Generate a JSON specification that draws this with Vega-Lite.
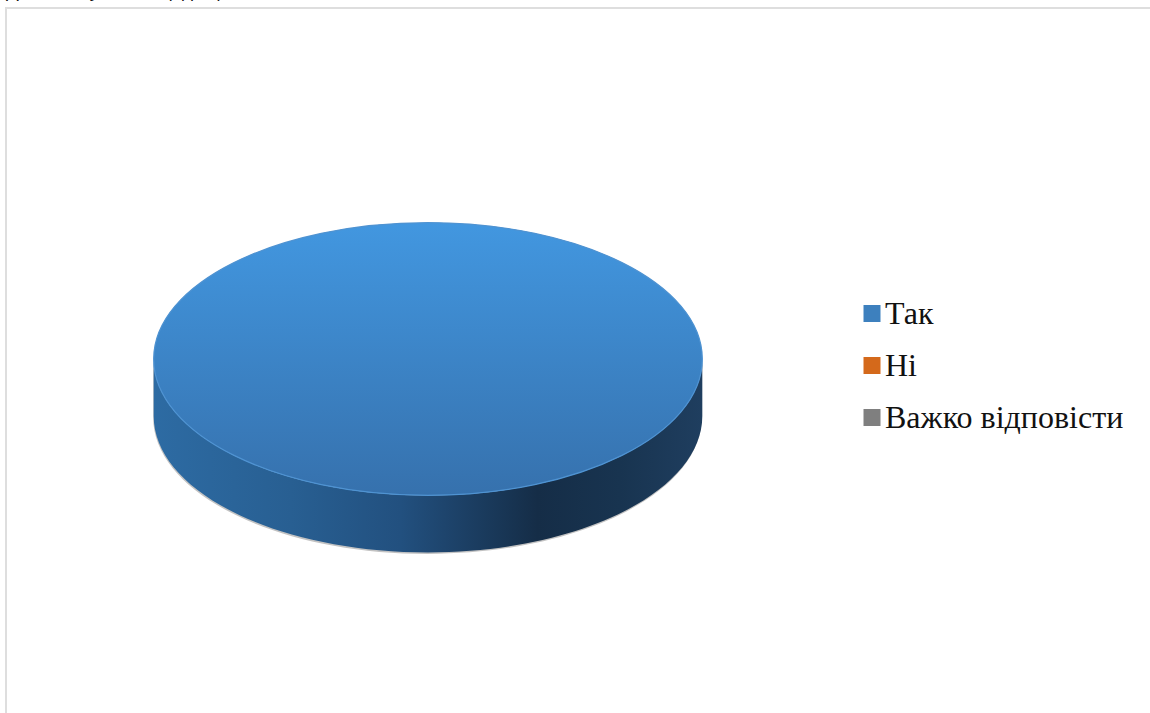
{
"$schema":"https://vega.github.io/schema/vega-lite/v6.json",
"autosize":{"type":"none"},
"width":1145,"height":706,
"padding":{"left":6,"top":8,"right":-1,"bottom":-1},
"background":"white",
"view":{"stroke":"#dedede","strokeWidth":2,"fill":"white"},
"title":{"text":"Дані опитування щодо цієї теми","anchor":"start","frame":"group","font":"Liberation Sans","fontSize":19,"fontWeight":"normal","color":"#111111","offset":0,"dy":8,"baseline":"alphabetic"},
"data":{"values":[{"відповідь":"Так","частка":100},{"відповідь":"Ні","частка":0},{"відповідь":"Важко відповісти","частка":0}]},
"layer":[
{"mark":{"type":"point","filled":true,"opacity":0.6,"shape":"M-1,0 L-1,0.208 A1,0.497 0 0 0 1,0.208 L1,0 A1,0.497 0 0 1 -1,0 Z","xOffset":-151,"yOffset":-0.5,"fill":"#9a9a9a"},
 "encoding":{"size":{"field":"частка","type":"quantitative","scale":{"domain":[0,100],"range":[0,301000]},"legend":null}}},
{"mark":{"type":"point","filled":true,"opacity":1,"shape":"M-1,0 A1,0.497 0 0 1 1,0 A1,0.497 0 0 1 -1,0 Z","xOffset":-150.5,"yOffset":-2},
 "encoding":{
  "size":{"field":"частка","type":"quantitative","scale":{"domain":[0,100],"range":[0,297025]},"legend":null},
  "color":{"field":"відповідь","type":"nominal","sort":["Так","Ні","Важко відповісти"],"scale":{"domain":["Так","Ні","Важко відповісти"],"range":["#3d80be","#d4691b","#7f7f7f"]},
   "legend":{"title":null,"orient":"none","legendX":850,"legendY":289.5,"symbolType":"square","symbolSize":289,"symbolStrokeWidth":0,"symbolOpacity":1,"labelFont":"Liberation Serif","labelFontSize":32,"labelColor":"#111111","rowPadding":20,"labelOffset":-3,"labelLimit":400}}}},
{"mark":{"type":"point","filled":true,"opacity":1,"shape":"M-1,0 L-1,0.208 A1,0.497 0 0 0 1,0.208 L1,0 A1,0.497 0 0 1 -1,0 Z","xOffset":-150.5,"yOffset":-2,
  "fill":{"gradient":"linear","x1":0,"y1":0,"x2":1,"y2":0,"stops":[{"offset":0,"color":"#2d6ba3"},{"offset":0.25,"color":"#285f92"},{"offset":0.45,"color":"#22507f"},{"offset":0.7,"color":"#152d47"},{"offset":0.85,"color":"#183450"},{"offset":1,"color":"#1f3e5f"}]}},
 "encoding":{"size":{"field":"частка","type":"quantitative","scale":{"domain":[0,100],"range":[0,297025]},"legend":null}}},
{"mark":{"type":"point","filled":true,"opacity":1,"shape":"M-1,0 A1,0.497 0 0 1 1,0 A1,0.497 0 0 1 -1,0 Z","xOffset":-150.5,"yOffset":-2,"stroke":"#4f93d2","strokeWidth":1.2,
  "fill":{"gradient":"linear","x1":0,"y1":0,"x2":0,"y2":1,"stops":[{"offset":0,"color":"#4297e0"},{"offset":1,"color":"#3671ad"}]}},
 "encoding":{"size":{"field":"частка","type":"quantitative","scale":{"domain":[0,100],"range":[0,297025]},"legend":null}}}
]
}
